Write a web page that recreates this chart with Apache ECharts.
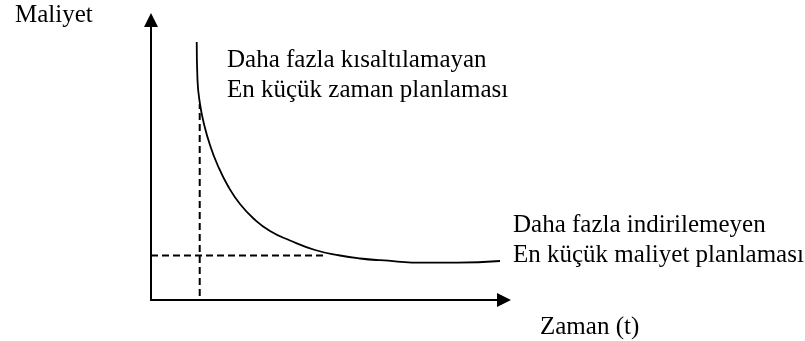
<!DOCTYPE html>
<html>
<head>
<meta charset="utf-8">
<script src="https://cdn.jsdelivr.net/npm/echarts@6/dist/echarts.min.js"></script>
<style>
  html, body { margin: 0; padding: 0; background: #fff; }
  #chart { width: 805px; height: 341px; }
</style>
</head>
<body>
<div id="chart"></div>
<script>
// Time–cost trade-off curve (x: Zaman, y: Maliyet), both on a 0–100 scale
const curveX = [12.95, 13.17, 13.88, 15.01, 16.71, 18.98, 21.81, 25.21, 29.18, 33.71, 39.38, 46.46, 53.54, 59.21, 64.87, 78.19, 86.69, 98.87];
const curveY = [92.14, 78.57, 70.0, 62.86, 55.36, 47.86, 40.71, 34.29, 28.93, 24.64, 21.25, 17.86, 15.89, 14.82, 14.21, 13.32, 13.32, 13.93];

// Guide lines: shortest feasible time and lowest feasible cost
const minTimeX = [13.8, 13.8];
const minTimeY = [1.4, 70.0];
const minCostX = [0, 49.8];
const minCostY = [15.9, 15.9];

// Texts
const yTitle = 'Maliyet';
const xTitle = 'Zaman (t)';
const noteTime = ['Daha fazla kısaltılamayan', 'En küçük zaman planlaması'];
const noteCost = ['Daha fazla indirilemeyen', 'En küçük maliyet planlaması'];

const zip = (xs, ys) => xs.map((x, i) => [x, ys[i]]);
const FONT = '25px "Liberation Serif", "Times New Roman", serif';

function axisStyle() {
  return {
    type: 'value', min: 0, max: 100,
    axisLine: {
      show: true, onZero: false,
      symbol: ['none', 'triangle'], symbolSize: [14, 14],
      lineStyle: { color: '#000', width: 2 }
    },
    axisTick: { show: false },
    axisLabel: { show: false },
    splitLine: { show: false }
  };
}

function label(text, x, y) {
  return {
    type: 'text', x: x, y: y,
    style: { text: text, font: FONT, fill: '#000', verticalAlign: 'middle', align: 'left' }
  };
}

const chart = echarts.init(document.getElementById('chart'), null, { renderer: 'canvas' });
chart.setOption({
  animation: false,
  backgroundColor: '#fff',
  grid: { left: 151, right: 301, top: 20, bottom: 41 },
  xAxis: axisStyle(),
  yAxis: axisStyle(),
  series: [
    {
      type: 'line', data: zip(curveX, curveY), smooth: 0.5,
      showSymbol: false, lineStyle: { color: '#000', width: 1.8 }
    },
    {
      type: 'line', data: zip(minTimeX, minTimeY),
      showSymbol: false, lineStyle: { color: '#000', width: 2, type: [7, 4] }
    },
    {
      type: 'line', data: zip(minCostX, minCostY),
      showSymbol: false, lineStyle: { color: '#000', width: 2, type: [7, 4] }
    }
  ],
  graphic: [
    label(yTitle, 15, 15.1),
    label(noteTime[0], 227, 60.7),
    label(noteTime[1], 227, 90.7),
    label(noteCost[0], 513, 225),
    label(noteCost[1], 513, 255),
    label(xTitle, 540, 327.4)
  ]
});
</script>
</body>
</html>
